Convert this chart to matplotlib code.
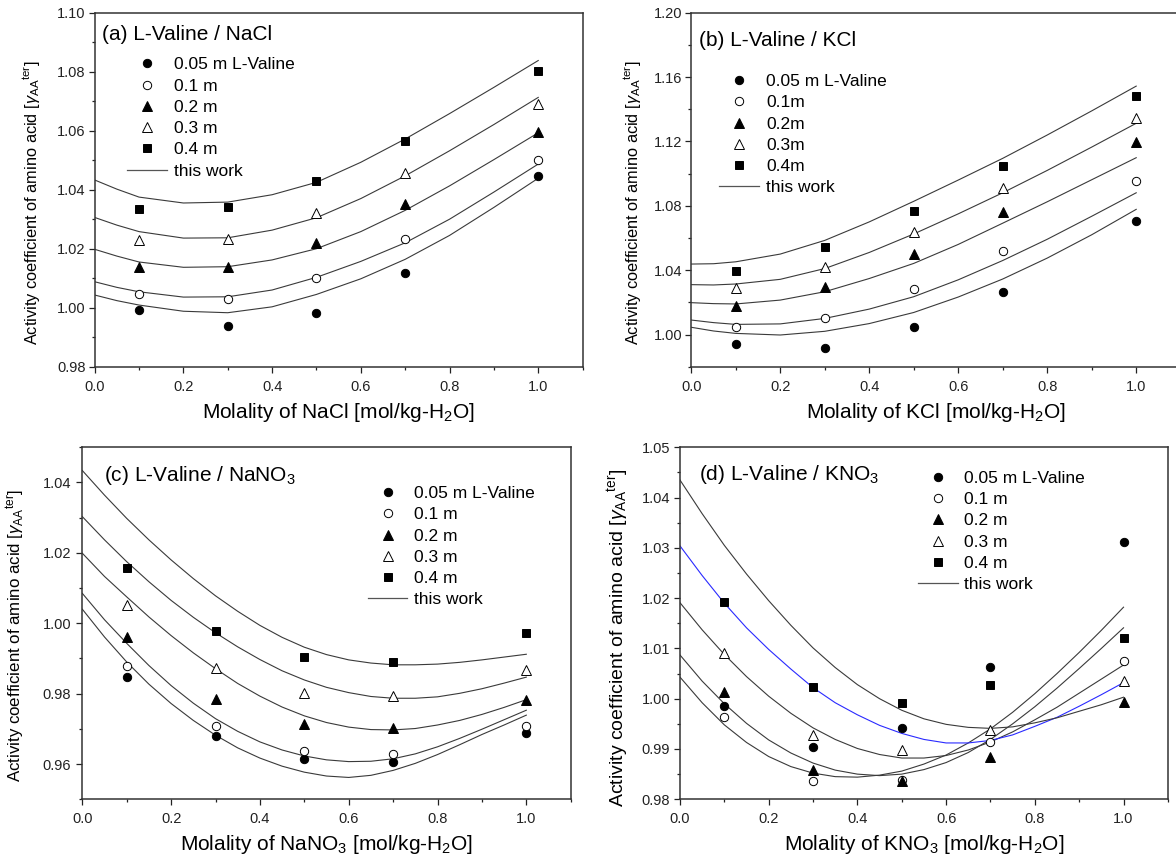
import numpy as np
import matplotlib
matplotlib.use('Agg')
import matplotlib.pyplot as plt
from matplotlib.ticker import MultipleLocator, FormatStrFormatter
from matplotlib.lines import Line2D

plt.rcParams['font.family'] = 'Liberation Sans'
plt.rcParams['mathtext.fontset'] = 'custom'
plt.rcParams['mathtext.rm'] = 'Liberation Sans'
plt.rcParams['mathtext.it'] = 'Liberation Sans:italic'

# molality of salt
x_exp = [0.1, 0.3, 0.5, 0.7, 1.0]
x_fit = [0.0, 0.05, 0.1, 0.2, 0.3, 0.4, 0.5, 0.6, 0.7, 0.8, 0.9, 1.0]
x_fine = [0.0, 0.05, 0.1, 0.15, 0.2, 0.25, 0.3, 0.35, 0.4, 0.45, 0.5,
          0.55, 0.6, 0.65, 0.7, 0.75, 0.8, 0.85, 0.9, 0.95, 1.0]

# rows: 0.05, 0.1, 0.2, 0.3, 0.4 m L-Valine
nacl_exp = [[0.9991, 0.9938, 0.9983, 1.0119, 1.0447],
            [1.0045, 1.0031, 1.0100, 1.0233, 1.0501],
            [1.0137, 1.0139, 1.0218, 1.0352, 1.0595],
            [1.0229, 1.0234, 1.0320, 1.0456, 1.0690],
            [1.0336, 1.0342, 1.0429, 1.0566, 1.0802]]
nacl_fit = [[1.0043, 1.0024, 1.0009, 0.9988, 0.9983, 1.0003, 1.0045, 1.0098, 1.0164, 1.0245, 1.0340, 1.0439],
            [1.0088, 1.0069, 1.0054, 1.0036, 1.0037, 1.0060, 1.0103, 1.0157, 1.0220, 1.0300, 1.0392, 1.0487],
            [1.0198, 1.0175, 1.0155, 1.0137, 1.0139, 1.0162, 1.0200, 1.0258, 1.0330, 1.0413, 1.0502, 1.0593],
            [1.0306, 1.0280, 1.0258, 1.0236, 1.0237, 1.0263, 1.0305, 1.0370, 1.0447, 1.0532, 1.0621, 1.0713],
            [1.0433, 1.0402, 1.0375, 1.0355, 1.0358, 1.0383, 1.0425, 1.0493, 1.0572, 1.0658, 1.0747, 1.0838]]

kcl_exp = [[0.9941, 0.9918, 1.0049, 1.0264, 1.0707],
           [1.0047, 1.0104, 1.0281, 1.0521, 1.0956],
           [1.0179, 1.0293, 1.0500, 1.0763, 1.1196],
           [1.0287, 1.0418, 1.0635, 1.0908, 1.1347],
           [1.0397, 1.0542, 1.0768, 1.1047, 1.1484]]
kcl_fit = [[1.0045, 1.0022, 1.0007, 0.9997, 1.0020, 1.0068, 1.0137, 1.0233, 1.0345, 1.0475, 1.0620, 1.0778],
           [1.0090, 1.0074, 1.0063, 1.0066, 1.0100, 1.0158, 1.0235, 1.0340, 1.0460, 1.0592, 1.0735, 1.0881],
           [1.0198, 1.0192, 1.0190, 1.0214, 1.0266, 1.0348, 1.0442, 1.0560, 1.0692, 1.0825, 1.0962, 1.1099],
           [1.0310, 1.0308, 1.0314, 1.0343, 1.0410, 1.0510, 1.0625, 1.0750, 1.0881, 1.1020, 1.1165, 1.1313],
           [1.0438, 1.0440, 1.0452, 1.0500, 1.0585, 1.0700, 1.0828, 1.0960, 1.1095, 1.1240, 1.1390, 1.1544]]

nano3_exp = [[0.9847, 0.9681, 0.9614, 0.9605, 0.9689],
             [0.9880, 0.9708, 0.9636, 0.9628, 0.9708],
             [0.9962, 0.9786, 0.9714, 0.9702, 0.9782],
             [1.0052, 0.9874, 0.9801, 0.9792, 0.9867],
             [1.0158, 0.9978, 0.9903, 0.9891, 0.9972]]
nano3_fit = [[1.0040, 0.9961, 0.9890, 0.9827, 0.9772, 0.9724, 0.9682, 0.9646, 0.9617, 0.9594, 0.9577,
              0.9566, 0.9562, 0.9568, 0.9582, 0.9602, 0.9627, 0.9655, 0.9684, 0.9711, 0.9739],
             [1.0085, 1.0010, 0.9943, 0.9880, 0.9823, 0.9773, 0.9729, 0.9693, 0.9663, 0.9640, 0.9623,
              0.9612, 0.9607, 0.9608, 0.9615, 0.9629, 0.9649, 0.9673, 0.9699, 0.9726, 0.9753],
             [1.0199, 1.0133, 1.0075, 1.0018, 0.9965, 0.9916, 0.9871, 0.9829, 0.9793, 0.9762, 0.9737,
              0.9718, 0.9705, 0.9698, 0.9697, 0.9701, 0.9711, 0.9724, 0.9741, 0.9761, 0.9783],
             [1.0303, 1.0237, 1.0175, 1.0118, 1.0065, 1.0017, 0.9973, 0.9933, 0.9897, 0.9865, 0.9839,
              0.9818, 0.9803, 0.9792, 0.9787, 0.9787, 0.9791, 0.9801, 0.9814, 0.9830, 0.9847],
             [1.0434, 1.0364, 1.0298, 1.0237, 1.0180, 1.0127, 1.0078, 1.0034, 0.9994, 0.9960, 0.9932,
              0.9911, 0.9896, 0.9887, 0.9882, 0.9882, 0.9884, 0.9889, 0.9896, 0.9904, 0.9912]]

kno3_exp = [[0.9986, 0.9903, 0.9942, 1.0064, 1.0312],
            [0.9964, 0.9837, 0.9838, 0.9913, 1.0074],
            [1.0013, 0.9858, 0.9837, 0.9884, 0.9993],
            [1.0090, 0.9928, 0.9898, 0.9937, 1.0035],
            [1.0193, 1.0024, 0.9992, 1.0027, 1.0120]]
kno3_fit = [[1.0043, 0.9992, 0.9948, 0.9913, 0.9885, 0.9865, 0.9852, 0.9845, 0.9844, 0.9848, 0.9856,
             0.9870, 0.9888, 0.9912, 0.9940, 0.9973, 1.0010, 1.0050, 1.0092, 1.0136, 1.0182],
            [1.0087, 1.0035, 0.9990, 0.9951, 0.9918, 0.9892, 0.9872, 0.9858, 0.9850, 0.9847, 0.9850,
             0.9859, 0.9873, 0.9893, 0.9919, 0.9950, 0.9984, 1.0021, 1.0060, 1.0100, 1.0141],
            [1.0191, 1.0137, 1.0088, 1.0044, 1.0005, 0.9971, 0.9942, 0.9919, 0.9901, 0.9889, 0.9882,
             0.9882, 0.9887, 0.9898, 0.9914, 0.9934, 0.9958, 0.9983, 1.0011, 1.0039, 1.0067],
            [1.0304, 1.0245, 1.0190, 1.0141, 1.0098, 1.0059, 1.0022, 0.9992, 0.9968, 0.9947, 0.9931,
             0.9919, 0.9912, 0.9912, 0.9917, 0.9928, 0.9945, 0.9963, 0.9985, 1.0008, 1.0032],
            [1.0435, 1.0368, 1.0305, 1.0248, 1.0195, 1.0146, 1.0101, 1.0062, 1.0028, 1.0000, 0.9977,
             0.9960, 0.9949, 0.9943, 0.9941, 0.9944, 0.9952, 0.9962, 0.9975, 0.9988, 1.0003]]

labels_m = ['0.05 m L-Valine', '0.1 m', '0.2 m', '0.3 m', '0.4 m']
labels_kcl = ['0.05 m L-Valine', '0.1m', '0.2m', '0.3m', '0.4m']

markers = ['o', 'o', '^', '^', 's']
filled = [True, False, True, False, True]
msizes = [6.0, 6.0, 6.6, 6.6, 5.2]

fig = plt.figure(figsize=(11.76, 8.61), dpi=100)

panels = [
    # axes rect, exp, fit x, fit, labels, title, salt, ylim, major, minor,
    # legend anchor, title pos, ytick pad, ylabel coords, ylabel size
    ([0.0805, 0.5741, 0.4149, 0.4111], nacl_exp, x_fit, nacl_fit, labels_m,
     '(a) L-Valine / NaCl', 'NaCl', (0.98, 1.10), 0.02, 0.01,
     (0.067, 0.874), (0.016, 0.923), 2, (-0.108, 0.462), 11.8),
    ([0.5878, 0.5741, 0.4162, 0.4111], kcl_exp, x_fit, kcl_fit, labels_kcl,
     '(b) L-Valine / KCl', 'KCl', (0.98, 1.20), 0.04, 0.02,
     (0.057, 0.827), (0.016, 0.907), 2, (-0.099, 0.462), 11.8),
    ([0.0700, 0.0717, 0.4153, 0.4088], nano3_exp, x_fine, nano3_fit, labels_m,
     '(c) L-Valine / NaNO$_3$', 'NaNO$_3$', (0.95, 1.05), 0.02, 0.01,
     (0.584, 0.890), (0.044, 0.904), 3.5, (-0.114, 0.464), 12.2),
    ([0.5782, 0.0717, 0.4149, 0.4088], kno3_exp, x_fine, kno3_fit, labels_m,
     '(d) L-Valine / KNO$_3$', 'KNO$_3$', (0.98, 1.05), 0.01, 0.005,
     (0.487, 0.933), (0.038, 0.907), 2.5, (-0.100, 0.458), 14),
]

line_col = '#3a3a3a'
ylabel_text = r'Activity coefficient of amino acid [$\gamma_{\mathrm{AA}}{}^{\mathrm{ter}}$]'

for i, (rect, exp, xf, fit, labels, title, salt, ylim, major, minor,
        leg_pos, tpos, ypad, ylab_xy, ylab_fs) in enumerate(panels):
    ax = fig.add_axes(rect)
    for j in range(5):
        col = line_col
        if i == 3 and j == 3:
            col = '#2a2aff'
        ax.plot(xf, fit[j], color=col, lw=0.8, zorder=2)
    handles = []
    for j in range(5):
        fc = 'black' if filled[j] else 'white'
        h, = ax.plot(x_exp, exp[j], ls='none', marker=markers[j], ms=msizes[j],
                     mfc=fc, mec='black', mew=0.7, zorder=3, label=labels[j])
        handles.append(h)
    handles.append(Line2D([], [], color='#555555', lw=0.9, label='this work'))

    ax.set_xlim(0.0, 1.1)
    ax.set_ylim(*ylim)
    ax.xaxis.set_major_locator(MultipleLocator(0.2))
    ax.xaxis.set_minor_locator(MultipleLocator(0.1))
    ax.xaxis.set_major_formatter(FormatStrFormatter('%.1f'))
    if i == 1:
        ax.set_yticks(np.arange(1.00, 1.201, 0.04))
    elif i == 2:
        ax.set_yticks(np.arange(0.96, 1.041, 0.02))
    else:
        ax.yaxis.set_major_locator(MultipleLocator(major))
    ax.yaxis.set_minor_locator(MultipleLocator(minor))
    ax.yaxis.set_major_formatter(FormatStrFormatter('%.2f'))
    ax.tick_params(which='both', direction='out', top=False, right=False,
                   width=0.9, labelsize=10.5, colors='#222222')
    ax.tick_params(which='major', length=4.5)
    ax.tick_params(which='minor', length=2.5)
    ax.tick_params(axis='x', pad=5)
    ax.tick_params(axis='y', pad=ypad)
    for sp in ax.spines.values():
        sp.set_linewidth(1.1)
        sp.set_color('#333333')

    ax.set_xlabel('Molality of ' + salt + ' [mol/kg-H$_2$O]', fontsize=15, labelpad=5)
    ax.set_ylabel(ylabel_text, fontsize=ylab_fs)
    ax.yaxis.set_label_coords(*ylab_xy)

    ax.text(tpos[0], tpos[1], title, transform=ax.transAxes, fontsize=15,
            ha='left', va='baseline')
    ax.legend(handles=handles, loc='upper left', bbox_to_anchor=leg_pos, frameon=False,
              fontsize=12.5, numpoints=1, handlelength=2.3, handletextpad=0.4,
              labelspacing=0.35, borderpad=0, borderaxespad=0)

fig.savefig('out.png', dpi=100)
